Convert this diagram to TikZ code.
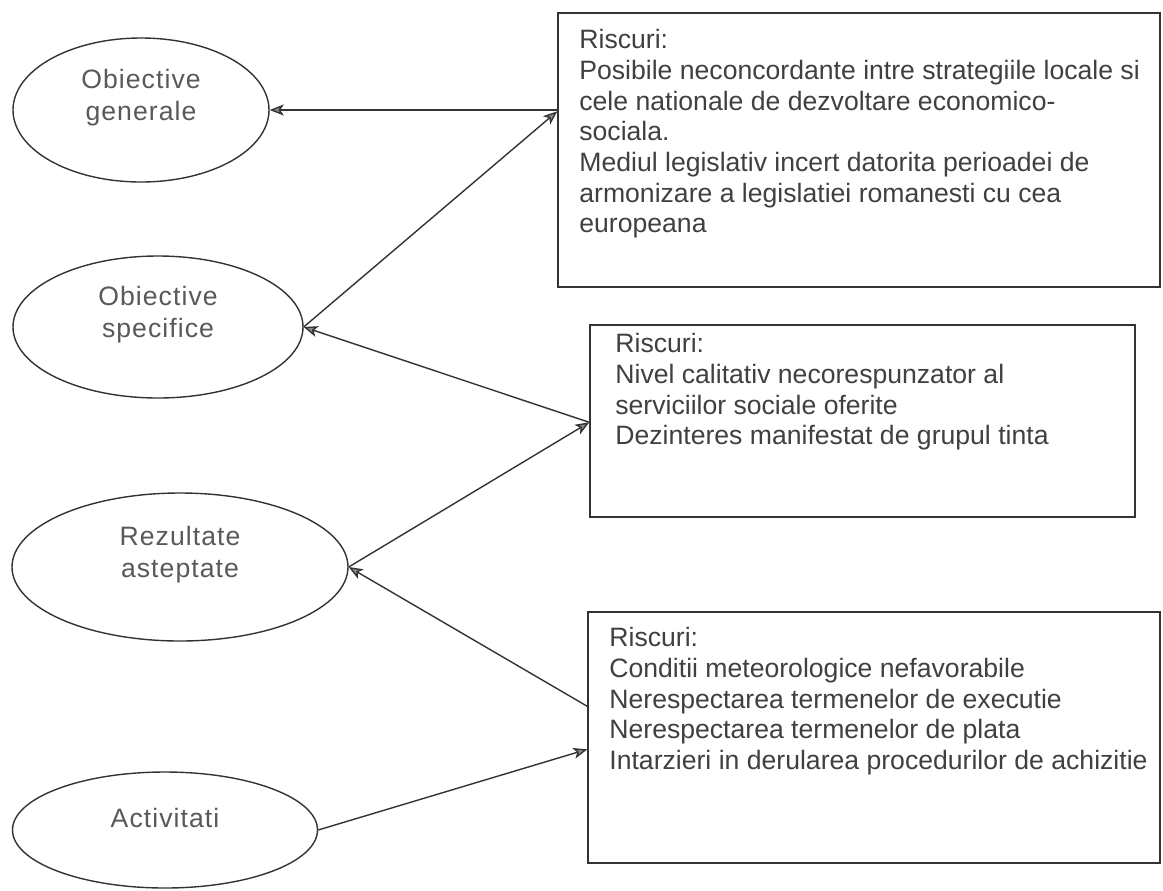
\documentclass[tikz,border=0pt]{standalone}
\usepackage{fontspec}
\setmainfont{Liberation Sans}
\newfontfamily\ovalfont{Liberation Sans}[LetterSpace=4]
\usetikzlibrary{arrows.meta,
                shapes.geometric,
                fit}

\begin{document}
\begin{tikzpicture}[x=0.5pt, y=-0.5pt,
        goal/.style={ellipse, draw=black!80, line width=0.7pt, inner sep=0pt},
        goaltext/.style={align=center, text=black!65, yshift=6pt,
                         font=\ovalfont\fontsize{13.3}{16}\selectfont},
        riskbox/.style={draw=black!80, line width=0.7pt, inner sep=0pt},
        risktext/.style={anchor=north west, align=left, inner sep=0pt, text=black!75,
                         font=\fontsize{13.3}{15.35}\selectfont},
        link/.style={draw=black!80, line width=0.7pt,
                     -{Stealth[length=7pt, width=5.5pt, inset=1.8pt, fill=black!45]}}]
        \useasboundingbox (0,0) rectangle (1163,890);
        \fill[white] (0,0) rectangle (1163,890);

        % obiective (ellipses)
        \node[goal, minimum width=128pt, minimum height=72pt] (gen) at (141,110) {};
        \node[goal, minimum width=145pt, minimum height=71pt] (spec) at (158,327) {};
        \node[goal, minimum width=168pt, minimum height=74pt] (rez) at (180,567) {};
        \node[goal, minimum width=152.5pt, minimum height=58pt] (act) at (165,830) {};
        \node[goaltext] (gentxt) at (gen) {Obiective\\generale};
        \node[goaltext] (spectxt) at (spec) {Obiective\\specifice};
        \node[goaltext] (reztxt) at (rez) {Rezultate\\asteptate};
        \node[goaltext] (acttxt) at (act) {Activitati};

        % riscuri (boxes)
        \node[riskbox, fit={(558,13) (1160,287)}] (r1) {};
        \node[riskbox, fit={(590,325) (1135,517)}] (r2) {};
        \node[riskbox, fit={(588,612) (1160,863)}] (r3) {};
        \node[risktext] (r1txt) at (579,29) {Riscuri:\\
            Posibile neconcordante intre strategiile locale si\\
            cele nationale de dezvoltare economico-\\
            sociala.\\
            Mediul legislativ incert datorita perioadei de\\
            armonizare a legislatiei romanesti cu cea\\
            europeana};
        \node[risktext] (r2txt) at (615,333) {Riscuri:\\
            Nivel calitativ necorespunzator al\\
            serviciilor sociale oferite\\
            Dezinteres manifestat de grupul tinta};
        \node[risktext] (r3txt) at (609,627) {Riscuri:\\
            Conditii meteorologice nefavorabile\\
            Nerespectarea termenelor de executie\\
            Nerespectarea termenelor de plata\\
            Intarzieri in derularea procedurilor de achizitie};

        % connectors
        \coordinate (r1a) at ([yshift=-49.5pt]r1.north west);
        \coordinate (r2a) at ([yshift=-49pt]r2.north west);
        \coordinate (r3a) at ([yshift=-47.5pt]r3.north west);
        \coordinate (r3b) at ([yshift=-69pt]r3.north west);
        \draw[link] (r1.west |- gen.east) -- (gen.east);
        \draw[link] (spec.east) -- (r1a);
        \draw[link] (r2a) -- (spec.east);
        \draw[link] (rez.east) -- (r2a);
        \draw[link] (r3a) -- (rez.east);
        \draw[link] (act.east) -- (r3b);
    \end{tikzpicture}
\end{document}
